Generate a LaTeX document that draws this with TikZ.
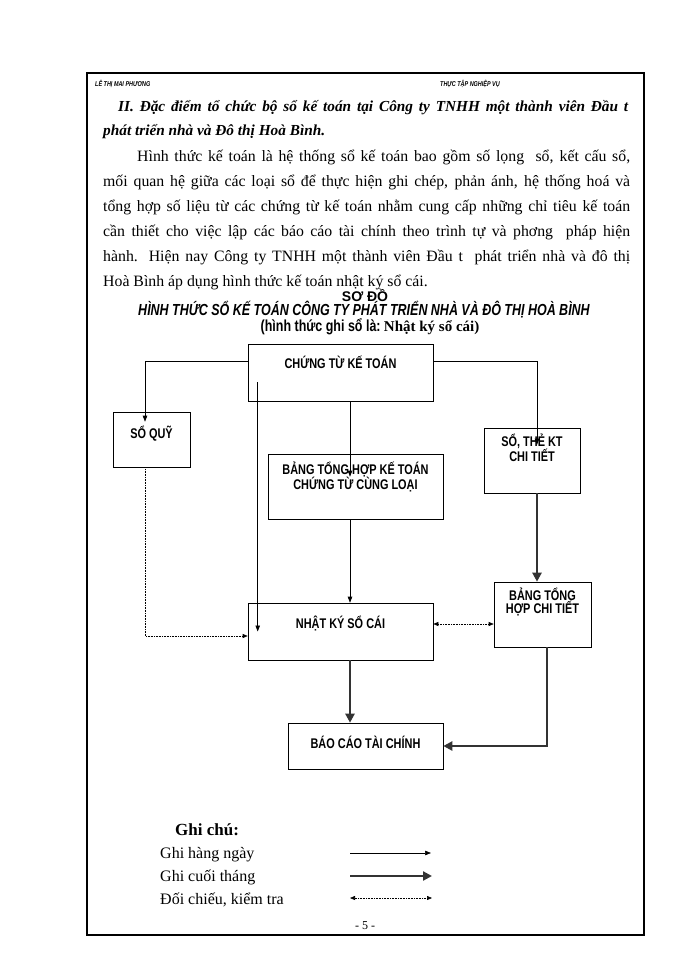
\documentclass[tikz,border=0pt]{standalone}
\usepackage{fontspec}
\setmainfont{Liberation Serif}
\newfontfamily\plainsans{Liberation Sans}
\newfontfamily\narrowsans[FakeStretch=0.78]{Liberation Sans}
\usetikzlibrary{arrows.meta, positioning, calc}

% box text: width, height, first baseline from top, lines
\newcommand{\boxlabel}[4]{\parbox[t][#2][t]{#1}{\centering\baselineskip=12pt\rule{0pt}{#3}#4}}

\begin{document}
\begin{tikzpicture}[x=1pt, y=-1pt,
    box/.style={draw, line width=0.6pt, inner sep=0pt, font=\narrowsans\bfseries\fontsize{14}{12}\selectfont},
    txt/.style={anchor=base west, inner sep=0pt, font=\fontsize{15.8}{18}\selectfont},
    daily/.style={-{Triangle[length=6pt,width=4.5pt]}, line width=0.6pt},
    monthly/.style={-{Triangle[length=9pt,width=9pt]}, line width=2.6pt, draw=black!80},
    check/.style={{Triangle[length=5pt,width=4pt]}-{Triangle[length=5pt,width=4pt]}, densely dotted, line width=0.6pt},
    checkone/.style={-{Triangle[length=5pt,width=4pt]}, densely dotted, line width=0.6pt}]
  \useasboundingbox (0,0) rectangle (700,960);
  \draw[line width=2.6pt] (87,73) rectangle (644,935);

  % header
  \node[txt, font=\narrowsans\bfseries\itshape\fontsize{7}{8}\selectfont] (hdl) at (95,87) {LÊ THỊ MAI PHƯƠNG};
  \node[txt, font=\narrowsans\bfseries\itshape\fontsize{7}{8}\selectfont] (hdr) at (440,87) {THỰC TẬP NGHIỆP VỤ};

  % heading and paragraph
  \node[txt, font=\bfseries\itshape\fontsize{15.3}{18}\selectfont] (h1) at (118,112)
    {\makebox[510pt][s]{II. Đặc điểm tổ chức bộ sổ kế toán tại Công ty TNHH một thành viên Đầu t}};
  \node[txt, font=\bfseries\itshape\fontsize{15.3}{18}\selectfont] (h2) at (103,136) {phát triển nhà và Đô thị Hoà Bình.};
  \node[txt] (p1) at (137,161) {\makebox[493pt][s]{Hình thức kế toán là hệ thống sổ kế toán bao gồm số lọng \ sổ, kết cấu sổ,}};
  \foreach \ln [count=\i from 2] in
    {{mối quan hệ giữa các loại sổ để thực hiện ghi chép, phản ánh, hệ thống hoá và},
     {tổng hợp số liệu từ các chứng từ kế toán nhằm cung cấp những chỉ tiêu kế toán},
     {cần thiết cho việc lập các báo cáo tài chính theo trình tự và phơng \ pháp hiện},
     {hành. Hiện nay Công ty TNHH một thành viên Đầu t \ phát triển nhà và đô thị}} {
    \node[txt] (p\i) at (103,136+25*\i) {\makebox[527pt][s]{\ln}};
  }
  \node[txt] (p6) at (103,286) {Hoà Bình áp dụng hình thức kế toán nhật ký sổ cái.};

  % titles
  \node[font=\plainsans\bfseries\fontsize{14}{14}\selectfont, inner sep=0pt] (so) at (365,295) {SƠ ĐỒ};
  \node[font=\narrowsans\bfseries\itshape\fontsize{16}{16}\selectfont, inner sep=0pt] (tt) at (364,310)
    {HÌNH THỨC SỔ KẾ TOÁN CÔNG TY PHÁT TRIỂN NHÀ VÀ ĐÔ THỊ HOÀ BÌNH};
  \node[inner sep=0pt] (st) at (370,327)
    {{\narrowsans\bfseries\fontsize{16}{16}\selectfont (hình thức ghi sổ là:} {\bfseries\fontsize{15}{15}\selectfont Nhật ký sổ cái)}};

  % boxes
  \node[box] (ct) at (340.5,372.5) {\boxlabel{185pt}{57pt}{24pt}{CHỨNG TỪ KẾ TOÁN}};
  \node[box] (sq) at (151.5,439.5) {\boxlabel{77pt}{55pt}{26pt}{SỔ QUỸ}};
  \node[box] (bth) at (355.5,486.5) {\boxlabel{175pt}{65pt}{20pt}{BẢNG TỔNG HỢP KẾ TOÁN\\CHỨNG TỪ CÙNG LOẠI}};
  \node[box] (stk) at (532,460.5) {\boxlabel{96pt}{65pt}{18pt}{SỔ, THẺ KT\\CHI TIẾT}};
  \node[box] (bct) at (542.5,614.5) {\boxlabel{97pt}{65pt}{18pt}{BẢNG TỔNG\\HỢP CHI TIẾT}};
  \node[box] (nk) at (340.5,631.5) {\boxlabel{185pt}{57pt}{25pt}{NHẬT KÝ SỔ CÁI}};
  \node[box] (bc) at (365.5,746) {\boxlabel{155pt}{46pt}{25pt}{BÁO CÁO TÀI CHÍNH}};

  % daily
  \draw[daily] ([yshift=11.5pt]ct.west) -| ([xshift=-6.5pt,yshift=-10pt]sq.north);
  \draw[daily] ([yshift=11.5pt]ct.east) -| ([xshift=5pt,yshift=-17pt]stk.north);
  \coordinate (ctin) at ([xshift=10pt,yshift=-9.5pt]ct.west);
  \draw[daily] (ctin) -- (ctin |- nk.center);
  \draw[daily] ([xshift=9.5pt]ct.south) -- ([xshift=-5.5pt,yshift=-23pt]bth.north);
  \draw[daily] ([xshift=-5.5pt]bth.south) -- ([xshift=9.5pt]nk.north);

  % month end
  \draw[monthly] ([xshift=5pt]stk.south) -- ([xshift=5pt]stk.south |- bct.north);
  \draw[monthly] ([xshift=9.5pt]nk.south) -- ([xshift=9.5pt]nk.south |- bc.north);
  \draw[monthly] ([xshift=4.5pt]bct.south) |- (bc.east);

  % cross check
  \draw[checkone] ([xshift=-6.5pt]sq.south) |- ([yshift=-4.5pt]nk.west);
  \draw[check] ([yshift=7.5pt]nk.east) -- ([yshift=7.5pt]nk.east -| bct.west);

  % legend
  \node[txt, font=\bfseries\fontsize{17}{20}\selectfont] (lg0) at (175,835) {Ghi chú:};
  \node[txt, font=\fontsize{16}{18}\selectfont] (lg1) at (160,858) {Ghi hàng ngày};
  \node[txt, font=\fontsize{16}{18}\selectfont] (lg2) at (160,881) {Ghi cuối tháng};
  \node[txt, font=\fontsize{16}{18}\selectfont] (lg3) at (160,904) {Đối chiếu, kiểm tra};
  \coordinate (a1) at (350,853); \coordinate (b1) at (431,853);
  \coordinate (a2) at (350,876); \coordinate (b2) at (432,876);
  \coordinate (a3) at (350,898); \coordinate (b3) at (432,898);
  \draw[daily] (a1) -- (b1);
  \draw[monthly] (a2) -- (b2);
  \draw[check] (a3) -- (b3);

  \node[font=\fontsize{12}{14}\selectfont, inner sep=0pt] (pg) at (365,926) {- 5 -};
\end{tikzpicture}
\end{document}
